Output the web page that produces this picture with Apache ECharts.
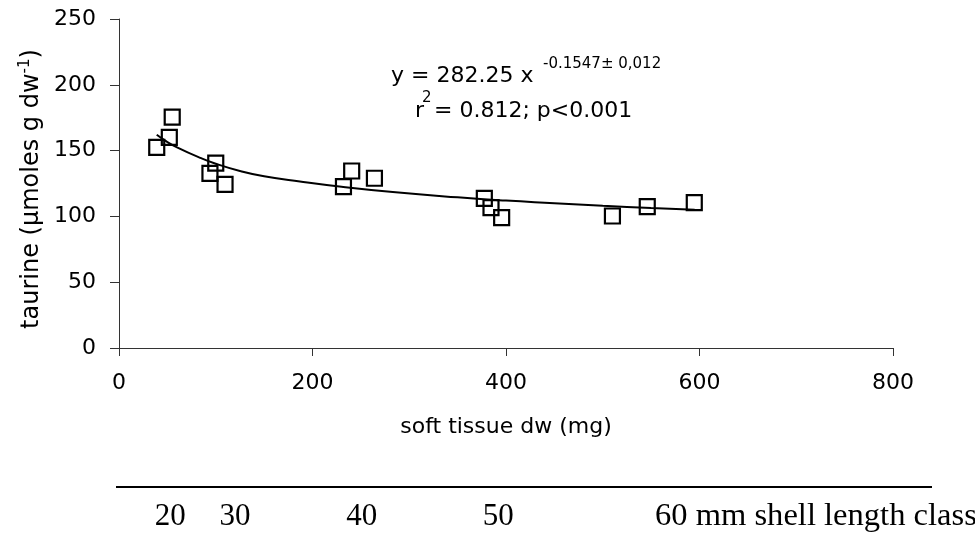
<!DOCTYPE html>
<html>
<head>
<meta charset="utf-8">
<script src="https://cdn.jsdelivr.net/npm/echarts@6.0.0/dist/echarts.min.js"></script>
<style>
  html, body { margin: 0; padding: 0; background: #fff; }
  #chart { width: 975px; height: 540px; }
</style>
</head>
<body>
<div id="chart"></div>
<script>
// measured points: soft tissue dry weight (mg) vs taurine
const dw = [39, 52, 55, 94, 100, 109.6, 232, 240.5, 264, 377.6, 384.5, 395.5, 510, 546, 594.6];
const taurine = [152.5, 160, 175.5, 132.7, 140.5, 124.4, 122.6, 134.5, 129, 113.7, 106.6, 99, 100.3, 107.4, 110.4];

// fitted power curve
const fitDw = [39, 49, 60, 84, 100, 125, 150, 187, 230, 283, 350, 400, 450, 500, 550, 595];
const fitTaurine = [162, 157, 152.5, 144.5, 140, 134.5, 130.5, 126.5, 122.5, 118.5, 114.5, 112, 110, 108, 106.3, 105];

// shell length classes along the dw axis
const shellLabels = ['20', '30', '40', '50', '60 mm shell length class'];
const shellDw = [53, 120, 251, 392, 554];

const sans = 'DejaVu Sans';
const serif = 'Liberation Serif';
const axisColor = '#333';

const chart = echarts.init(document.getElementById('chart'));

const option = {
    animation: false,
    backgroundColor: '#fff',
    grid: { left: 119, right: 82, top: 19, bottom: 192 },
    xAxis: {
        type: 'value',
        min: 0,
        max: 800,
        interval: 200,
        name: 'soft tissue dw (mg)',
        nameLocation: 'middle',
        nameGap: 68,
        nameTextStyle: { fontSize: 22, fontFamily: sans, color: '#000' },
        axisLine: { show: true, lineStyle: { color: axisColor, width: 1 } },
        axisTick: { show: true, length: 8, lineStyle: { color: axisColor } },
        splitLine: { show: false },
        axisLabel: { margin: 24, fontSize: 22, fontFamily: sans, color: '#000' },
    },
    yAxis: {
        type: 'value',
        min: 0,
        max: 250,
        interval: 50,
        axisLine: { show: true, lineStyle: { color: axisColor, width: 1 } },
        axisTick: { show: true, length: 9, lineStyle: { color: axisColor } },
        splitLine: { show: false },
        axisLabel: { margin: 23, fontSize: 22, fontFamily: sans, color: '#000' },
    },
    series: [
        {
            type: 'line',
            data: fitDw.map((x, i) => [x, fitTaurine[i]]),
            smooth: true,
            showSymbol: false,
            lineStyle: { color: '#000', width: 2 },
            z: 2,
        },
        {
            type: 'scatter',
            data: dw.map((x, i) => [x, taurine[i]]),
            symbol: 'rect',
            symbolSize: 15,
            itemStyle: { color: 'rgba(0,0,0,0)', borderColor: '#000', borderWidth: 2.2, opacity: 1 },
            z: 3,
        },
    ],
};
chart.setOption(option);

// texts drawn on top: y name with superscript, equation, shell length scale
const font = (size, fam) => size + 'px "' + fam + '"';
const graphics = [
    {
        type: 'text',
        x: 32,
        y: 189,
        rotation: Math.PI / 2,
        style: {
            text: '{a|taurine (µmoles g dw}{s|-1}{a|)}',
            textAlign: 'center',
            textVerticalAlign: 'middle',
            rich: {
                a: { fontSize: 24, fontFamily: sans, fill: '#000', lineHeight: 28 },
                s: { fontSize: 15, fontFamily: sans, fill: '#000', verticalAlign: 'top', lineHeight: 16 },
            },
        },
    },
    { type: 'text', x: 391, y: 76, style: { text: 'y = 282.25 x', font: font(22, sans), fill: '#000', textVerticalAlign: 'middle' } },
    { type: 'text', x: 543, y: 64, style: { text: '-0.1547\u00b1 0,012', font: font(15, sans), fill: '#000', textVerticalAlign: 'middle' } },
    { type: 'text', x: 415, y: 111, style: { text: 'r', font: font(22, sans), fill: '#000', textVerticalAlign: 'middle' } },
    { type: 'text', x: 422, y: 98, style: { text: '2', font: font(15, sans), fill: '#000', textVerticalAlign: 'middle' } },
    { type: 'text', x: 434, y: 111, style: { text: '= 0.812; p<0.001', font: font(22, sans), fill: '#000', textVerticalAlign: 'middle' } },
    { type: 'line', shape: { x1: 116, y1: 487, x2: 932, y2: 487 }, style: { stroke: '#000', lineWidth: 2 } },
];
shellLabels.forEach((t, i) => {
    const last = i === shellLabels.length - 1;
    graphics.push({
        type: 'text',
        x: chart.convertToPixel({ xAxisIndex: 0 }, shellDw[i]),
        y: 517,
        scaleX: last ? 1.05 : 1,
        style: {
            text: t,
            font: font(31, serif),
            fill: '#000',
            textAlign: last ? 'left' : 'center',
            textVerticalAlign: 'middle',
        },
    });
});
chart.setOption({ graphic: graphics });
</script>
</body>
</html>
